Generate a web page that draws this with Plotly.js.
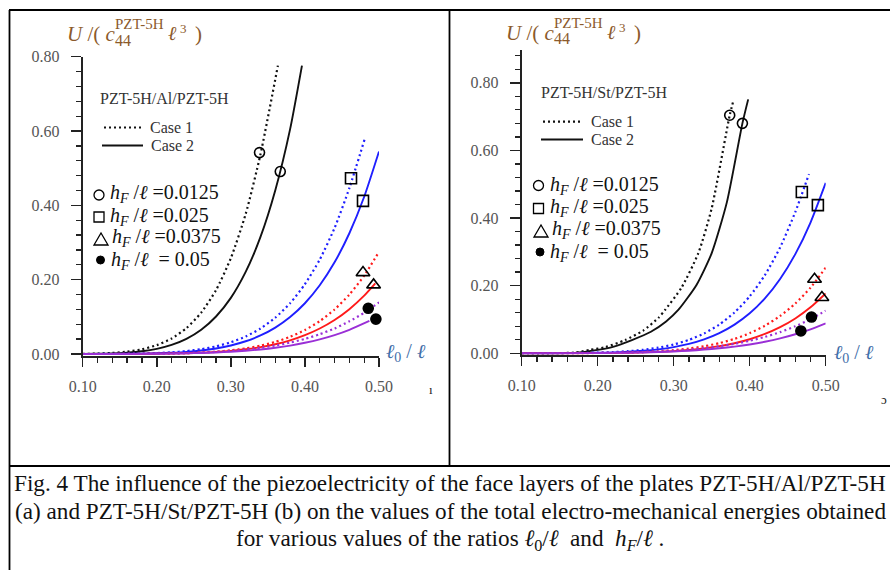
<!DOCTYPE html>
<html>
<head>
<meta charset="utf-8">
<script src="https://cdn.plot.ly/plotly-3.0.1.min.js"></script>
<style>html,body{margin:0;padding:0;background:#fff;}#chart{width:890px;height:570px;}</style>
</head>
<body>
<div id="chart"></div>
<script>
// ---------------- DATA ----------------
// Panel (a): PZT-5H/Al/PZT-5H
const xA_blackDot = [0.10,0.12,0.14,0.16,0.18,0.20,0.22,0.24,0.26,0.28,0.30,0.32,0.34,0.3635];
const yA_blackDot = [0.0004,0.0012,0.0029,0.0064,0.0128,0.0239,0.0417,0.0696,0.1113,0.1719,0.2579,0.3766,0.5374,0.776];
const xA_blackSol = [0.10,0.12,0.14,0.16,0.18,0.20,0.22,0.24,0.26,0.28,0.30,0.32,0.34,0.36,0.38,0.396];
const yA_blackSol = [0.0001,0.0007,0.0017,0.0038,0.0075,0.014,0.0245,0.0408,0.0652,0.1009,0.151,0.2208,0.315,0.4406,0.605,0.776];
const xA_blueDot = [0.10,0.14,0.18,0.20,0.22,0.24,0.26,0.28,0.30,0.32,0.34,0.36,0.38,0.40,0.42,0.44,0.46,0.4806];
const yA_blueDot = [0,0.0003,0.0013,0.0026,0.0046,0.0079,0.013,0.0206,0.0316,0.0471,0.0686,0.0977,0.1366,0.1879,0.2541,0.3391,0.4466,0.578];
const xA_full = [0.10,0.14,0.18,0.20,0.22,0.24,0.26,0.28,0.30,0.32,0.34,0.36,0.38,0.40,0.42,0.44,0.46,0.48,0.50];
const yA_blueSol = [0,0.0002,0.001,0.0019,0.0034,0.0058,0.0095,0.015,0.023,0.0343,0.0499,0.0711,0.0995,0.1366,0.1849,0.2467,0.325,0.4231,0.545];
const yA_redDot = [0,0.0001,0.0004,0.0007,0.0013,0.0023,0.0039,0.0063,0.0099,0.0151,0.0224,0.0325,0.0462,0.0645,0.0885,0.1198,0.16,0.211,0.275];
const xA_redSol = [0.10,0.14,0.18,0.20,0.22,0.24,0.26,0.28,0.30,0.32,0.34,0.36,0.38,0.40,0.42,0.44,0.46,0.48,0.495];
const yA_redSol = [0,0.0001,0.0004,0.0007,0.0012,0.0021,0.0035,0.0056,0.0085,0.0127,0.0185,0.0264,0.0369,0.0507,0.0686,0.0915,0.1206,0.157,0.19];
const yA_purDot = [0,0.0001,0.0005,0.0009,0.0015,0.0025,0.0038,0.0057,0.0084,0.0119,0.0167,0.0228,0.0307,0.0407,0.0533,0.0688,0.0879,0.111,0.139];
const xA_purSol = [0.10,0.14,0.18,0.20,0.22,0.24,0.26,0.28,0.30,0.32,0.34,0.36,0.38,0.40,0.42,0.44,0.46,0.487];
const yA_purSol = [0,0.0001,0.0004,0.0007,0.0011,0.0018,0.0028,0.0042,0.0062,0.0088,0.0123,0.0169,0.0227,0.0302,0.0394,0.0509,0.0651,0.089];
// comparison markers (a)
const mA_circX = [0.3387,0.3667], mA_circY = [0.542,0.491];
const mA_sqX = [0.4622,0.4784],   mA_sqY = [0.473,0.412];
const mA_triX = [0.4784,0.4927],  mA_triY = [0.219,0.186];
const mA_dotX = [0.4855,0.4958],  mA_dotY = [0.123,0.094];

// Panel (b): PZT-5H/St/PZT-5H
const xB_blackDot = [0.10,0.14,0.17,0.19,0.21,0.236,0.26,0.28,0.2886,0.31,0.3324,0.35,0.3737,0.379];
const yB_blackDot = [0,0,0.002,0.010,0.018,0.039,0.067,0.105,0.128,0.193,0.296,0.429,0.704,0.751];
const xB_blackSol = [0.10,0.14,0.17,0.20,0.22,0.245,0.27,0.29,0.306,0.33,0.35,0.37,0.3904,0.398];
const yB_blackSol = [0,0,0.001,0.010,0.019,0.039,0.0635,0.094,0.128,0.202,0.296,0.447,0.680,0.751];
const xB_blueDot = [0.10,0.14,0.18,0.20,0.22,0.24,0.26,0.28,0.30,0.32,0.34,0.36,0.38,0.40,0.42,0.44,0.46,0.478];
const yB_blueDot = [0,0.0002,0.0009,0.0019,0.0035,0.0061,0.0102,0.0166,0.0259,0.0395,0.0586,0.0849,0.1206,0.1683,0.2312,0.3129,0.4177,0.53];
const xB_full = [0.10,0.14,0.18,0.20,0.22,0.24,0.26,0.28,0.30,0.32,0.34,0.36,0.38,0.40,0.42,0.44,0.46,0.48,0.50];
const yB_blueSol = [0,0.0001,0.0007,0.0013,0.0024,0.0043,0.0072,0.0116,0.0182,0.0277,0.0411,0.0596,0.0847,0.1182,0.1622,0.2196,0.2931,0.3866,0.504];
const yB_redDot = [0,0.0001,0.0003,0.0007,0.0012,0.0021,0.0036,0.0058,0.0091,0.0139,0.0206,0.0299,0.0425,0.0593,0.0814,0.1102,0.1471,0.194,0.253];
const yB_redSol = [0,0,0.0002,0.0005,0.0009,0.0015,0.0025,0.0041,0.0064,0.0097,0.0144,0.0209,0.0297,0.0415,0.057,0.0771,0.1029,0.1358,0.177];
const yB_purDot = [0,0.0001,0.0005,0.0008,0.0014,0.0022,0.0035,0.0052,0.0076,0.0108,0.0151,0.0207,0.0279,0.0369,0.0483,0.0624,0.0797,0.1007,0.126];
const yB_purSol = [0,0.0001,0.0003,0.0006,0.001,0.0016,0.0024,0.0037,0.0053,0.0076,0.0106,0.0146,0.0196,0.026,0.034,0.0439,0.0561,0.0709,0.0887];
// comparison markers (b)
const mB_circX = [0.3737,0.3904], mB_circY = [0.704,0.680];
const mB_sqX = [0.4686,0.4897],   mB_sqY = [0.477,0.438];
const mB_triX = [0.4853,0.4950],  mB_triY = [0.219,0.165];
const mB_dotX = [0.4813,0.4673],  mB_dotY = [0.107,0.066];

// labels
const panelLabels = ["PZT-5H/Al/PZT-5H", "PZT-5H/St/PZT-5H"];
const caseLabels = ["Case 1", "Case 2"];
const hfValues = ["0.0125", "0.025", "0.0375", "0.05"];
const captionLines = [
  "Fig. 4 The influence of the piezoelectricity of the face layers of the plates PZT-5H/Al/PZT-5H",
  "(a) and PZT-5H/St/PZT-5H (b) on the values of the total electro-mechanical energies obtained",
  "for various values of the ratios <i>ℓ</i><sub>0</sub>/<i>ℓ</i>  and  <i>h</i><sub><i>F</i></sub>/<i>ℓ</i> ."
];

// ---------------- STYLE ----------------
const W = 890, H = 570;
const C = {black:'#111111', blue:'#1f1fff', red:'#ff1a1a', purple:'#9a2fd6'};
const SERIF = 'Liberation Serif, Times New Roman, serif';
const DOT = '2px,3px';
const px = x => x / W;
const py = y => 1 - y / H;

function line(x, y, color, dotted, xa, ya) {
  return {x, y, xaxis: xa, yaxis: ya, type: 'scatter', mode: 'lines', hoverinfo: 'skip',
    line: {color, width: dotted ? 2.2 : 1.9, dash: dotted ? DOT : 'solid', shape: 'spline', smoothing: 0.6}};
}
function marks(x, y, symbol, size, xa, ya) {
  return {x, y, xaxis: xa, yaxis: ya, type: 'scatter', mode: 'markers', cliponaxis: false, hoverinfo: 'skip',
    marker: {symbol, size, color: '#000', line: {color: '#000', width: 1.6}}};
}

const traces = [
  line(xA_blackDot, yA_blackDot, C.black, true, 'x', 'y'),
  line(xA_blackSol, yA_blackSol, C.black, false, 'x', 'y'),
  line(xA_blueDot, yA_blueDot, C.blue, true, 'x', 'y'),
  line(xA_full, yA_blueSol, C.blue, false, 'x', 'y'),
  line(xA_full, yA_redDot, C.red, true, 'x', 'y'),
  line(xA_redSol, yA_redSol, C.red, false, 'x', 'y'),
  line(xA_full, yA_purDot, C.purple, true, 'x', 'y'),
  line(xA_purSol, yA_purSol, C.purple, false, 'x', 'y'),
  marks(mA_circX, mA_circY, 'circle-open', 10, 'x', 'y'),
  marks(mA_sqX, mA_sqY, 'square-open', 11, 'x', 'y'),
  marks(mA_triX, mA_triY, 'triangle-up-open', 12, 'x', 'y'),
  marks(mA_dotX, mA_dotY, 'circle', 10, 'x', 'y'),

  line(xB_blackDot, yB_blackDot, C.black, true, 'x2', 'y2'),
  line(xB_blackSol, yB_blackSol, C.black, false, 'x2', 'y2'),
  line(xB_blueDot, yB_blueDot, C.blue, true, 'x2', 'y2'),
  line(xB_full, yB_blueSol, C.blue, false, 'x2', 'y2'),
  line(xB_full, yB_redDot, C.red, true, 'x2', 'y2'),
  line(xB_full, yB_redSol, C.red, false, 'x2', 'y2'),
  line(xB_full, yB_purDot, C.purple, true, 'x2', 'y2'),
  line(xB_full, yB_purSol, C.purple, false, 'x2', 'y2'),
  marks(mB_circX, mB_circY, 'circle-open', 10, 'x2', 'y2'),
  marks(mB_sqX, mB_sqY, 'square-open', 11, 'x2', 'y2'),
  marks(mB_triX, mB_triY, 'triangle-up-open', 12, 'x2', 'y2'),
  marks(mB_dotX, mB_dotY, 'circle', 10, 'x2', 'y2')
];

function xAxis(d0, d1, anchor) {
  return {domain: [px(d0), px(d1)], range: [0.1, 0.5], anchor, showgrid: false, zeroline: false,
    showline: true, linecolor: '#222', linewidth: 2, ticks: 'outside', ticklen: 9, tickwidth: 1.5, tickcolor: '#222',
    tick0: 0.1, dtick: 0.1, tickformat: '.2f', ticklabelstandoff: 6,
    tickfont: {family: SERIF, size: 16, color: '#555'},
    minor: {ticks: 'outside', ticklen: 5, tickwidth: 1.3, tickcolor: '#222', tick0: 0.1, dtick: 0.02, showgrid: false},
    fixedrange: true};
}
function yAxis(top, bottom, maxV, anchor) {
  return {domain: [py(bottom), py(top)], range: [-0.004, maxV], anchor, showgrid: false, zeroline: false,
    showline: true, linecolor: '#222', linewidth: 2, ticks: 'outside', ticklen: 10, tickwidth: 1.5, tickcolor: '#222',
    tick0: 0, dtick: 0.2, tickformat: '.2f', ticklabelstandoff: 8,
    tickfont: {family: SERIF, size: 16, color: '#555'},
    minor: {ticks: 'outside', ticklen: 5, tickwidth: 1.3, tickcolor: '#222', tick0: 0, dtick: 0.04, showgrid: false},
    fixedrange: true};
}

function ann(text, x, y, size, color, xanchor, extra) {
  return Object.assign({text, x: px(x), y: py(y), xref: 'paper', yref: 'paper', showarrow: false,
    xanchor: xanchor || 'left', yanchor: 'middle', font: {family: SERIF, size, color}}, extra || {});
}

const TITLE_C = '#8b5a2b';
const XT_C = '#3f6ea8';
const annotations = [];
const shapes = [];

function panelDecor(dx, dy, label, leg) {
  // y-axis title
  annotations.push(ann('<i>U</i> /( <i>c</i>', 65 + dx, 34 + dy, 21, TITLE_C));
  annotations.push(ann('PZT-5H', 113 + dx, 24 + dy, 15, TITLE_C));
  annotations.push(ann('44', 113 + dx, 40 + dy, 16, TITLE_C));
  annotations.push(ann('<i>ℓ</i>', 166 + dx, 33 + dy, 20, TITLE_C));
  annotations.push(ann('3', 178 + dx, 28 + dy, 13, TITLE_C));
  annotations.push(ann(')', 193 + dx, 34 + dy, 21, TITLE_C));
  // x-axis title
  annotations.push(ann('<i>ℓ</i><sub>0</sub> / <i>ℓ</i>', leg.xt[0], leg.xt[1], 20, XT_C));
  // material label
  annotations.push(ann(label, leg.lab[0], leg.lab[1], 16, '#333'));
  // case legend
  shapes.push({type: 'line', xref: 'paper', yref: 'paper', x0: px(leg.c1[0]), x1: px(leg.c1[1]), y0: py(leg.c1[2]), y1: py(leg.c1[2]),
    line: {color: '#111', width: 2.2, dash: DOT}});
  shapes.push({type: 'line', xref: 'paper', yref: 'paper', x0: px(leg.c2[0]), x1: px(leg.c2[1]), y0: py(leg.c2[2]), y1: py(leg.c2[2]),
    line: {color: '#111', width: 2}});
  annotations.push(ann(caseLabels[0], leg.c1t[0], leg.c1t[1], 16, '#333'));
  annotations.push(ann(caseLabels[1], leg.c2t[0], leg.c2t[1], 16, '#333'));
  // symbol legend
  const s = leg.sym;
  shapes.push({type: 'circle', xref: 'paper', yref: 'paper', x0: px(s[0][0] - 5), x1: px(s[0][0] + 5), y0: py(s[0][1] + 5), y1: py(s[0][1] - 5),
    line: {color: '#000', width: 1.3}});
  shapes.push({type: 'rect', xref: 'paper', yref: 'paper', x0: px(s[1][0] - 5), x1: px(s[1][0] + 5), y0: py(s[1][1] + 5), y1: py(s[1][1] - 5),
    line: {color: '#000', width: 1.3}});
  const tx = s[2][0], ty = s[2][1];
  shapes.push({type: 'path', xref: 'paper', yref: 'paper',
    path: `M ${px(tx - 7)} ${py(ty + 6)} L ${px(tx + 7)} ${py(ty + 6)} L ${px(tx)} ${py(ty - 6)} Z`,
    line: {color: '#000', width: 1.3}});
  shapes.push({type: 'circle', xref: 'paper', yref: 'paper', x0: px(s[3][0] - 4), x1: px(s[3][0] + 4), y0: py(s[3][1] + 4), y1: py(s[3][1] - 4),
    fillcolor: '#000', line: {color: '#000', width: 1}});
  hfValues.forEach((v, i) => {
    const eq = i === 3 ? ' = ' : '=';
    annotations.push(ann('<i>h</i><sub><i>F</i></sub> /<i>ℓ</i> ' + eq + v, leg.ht[i][0], leg.ht[i][1], 20, '#111'));
  });
}

panelDecor(0, 0, panelLabels[0], {
  xt: [384, 352], lab: [98, 99],
  c1: [104, 142, 127.5], c2: [102, 143, 145.5], c1t: [148, 127], c2t: [149, 145.5],
  sym: [[99, 195], [99, 217], [101, 239], [100.5, 260]],
  ht: [[108, 194], [108, 216], [110, 238], [109, 260]]
});
panelDecor(439, -1, panelLabels[1], {
  xt: [832, 353], lab: [539, 92],
  c1: [543, 582, 121.7], c2: [541, 583, 139.5], c1t: [589, 121.5], c2t: [589, 139.5],
  sym: [[538.5, 185.5], [538.5, 208.5], [541, 231], [540, 252]],
  ht: [[548, 185], [548, 207.5], [550, 230], [548, 252]]
});

// stray glyph fragments at the right edges of the panels
annotations.push(ann('ı', 431, 389, 13, '#222', 'center'));
annotations.push(ann('ɔ', 884, 399, 13, '#222', 'center'));

// caption
captionLines.forEach((t, i) => {
  annotations.push(ann(t, 450, [483, 511, 540][i], 23.2, '#111', 'center'));
});

// frame lines
const frame = [[9, 10, 890, 10], [9.5, 10, 9.5, 570], [449.5, 10, 449.5, 466], [9, 466, 890, 466]];
frame.forEach(f => shapes.push({type: 'line', xref: 'paper', yref: 'paper', x0: px(f[0]), y0: py(f[1]), x1: px(f[2]), y1: py(f[3]),
  line: {color: '#000', width: 1.8}}));

const layout = {
  width: W, height: H, margin: {l: 0, r: 0, t: 0, b: 0}, showlegend: false,
  paper_bgcolor: '#ffffff', plot_bgcolor: 'rgba(0,0,0,0)',
  xaxis: xAxis(82.7, 379, 'y'),
  yaxis: yAxis(56.7, 355.5, 0.8, 'x'),
  xaxis2: xAxis(521.7, 825.7, 'y2'),
  yaxis2: yAxis(50, 354.6, 0.897, 'x2'),
  annotations, shapes
};

Plotly.newPlot('chart', traces, layout, {displayModeBar: false, staticPlot: true});
</script>
</body>
</html>
